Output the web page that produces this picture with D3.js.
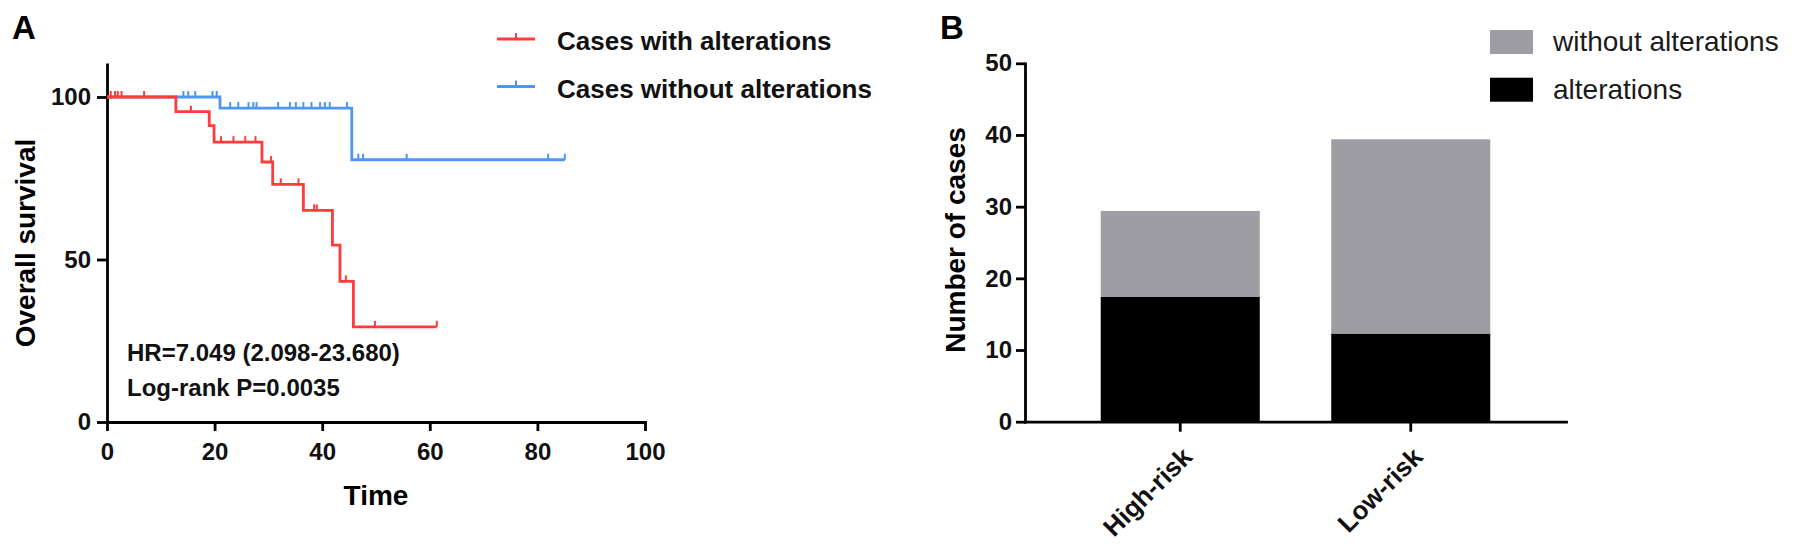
<!DOCTYPE html>
<html><head><meta charset="utf-8">
<script src="https://cdn.jsdelivr.net/npm/d3@7"></script>
<style>
body{margin:0;background:#fff}
svg{display:block}
text{font-family:"Liberation Sans",Arial,Helvetica,sans-serif}
</style></head><body>
<svg id="c" width="1795" height="550"></svg>
<script>
// ---------- Panel A: Kaplan-Meier ----------
const redTimes = [0, 12.8, 19.0, 19.9, 28.8, 30.8, 36.5, 41.9, 43.3, 45.8];
const redSurvival = [100, 95.5, 91.2, 86.1, 80.0, 73.1, 65.1, 54.4, 43.3, 29.3];
const redEnd = 61.3;
const redCensor = [0.7, 1.5, 2.0, 2.7, 6.9, 15.6, 21.2, 23.5, 25.7, 27.6, 30.5, 32.3, 35.6, 38.5, 39.0, 44.4, 49.8, 61.3];
const blueTimes = [0, 21.0, 45.5];
const blueSurvival = [100, 96.6, 80.7];
const blueEnd = 85.1;
const blueCensor = [14.2, 15.1, 16.4, 19.6, 20.4, 22.9, 24.4, 26.3, 27.2, 27.8, 31.8, 34.0, 35.1, 36.5, 38.0, 39.6, 40.5, 41.4, 44.6, 46.7, 47.6, 55.7, 82.0, 85.1];
const kmXTicks = [0, 20, 40, 60, 80, 100];
const kmYTicks = [0, 50, 100];
const kmLegend = ["Cases with alterations", "Cases without alterations"];
const kmNotes = ["HR=7.049 (2.098-23.680)", "Log-rank P=0.0035"];

// ---------- Panel B: stacked bars ----------
const riskGroups = ["High-risk", "Low-risk"];
const withAlterations = [17.4, 12.3];
const withoutAlterations = [12.0, 27.1];
const barYTicks = [0, 10, 20, 30, 40, 50];
const barLegend = ["without alterations", "alterations"];

const RED = "#ff3b3b", BLUE = "#4f96f2", GRAY = "#9e9da3";
const svg = d3.select("#c");
svg.append("rect").attr("width", 1795).attr("height", 550).attr("fill", "#fff");

function styleAxis(g, fs) {
  g.select(".domain").attr("stroke", "#000").attr("stroke-width", 2.8).attr("stroke-linecap", "square");
  g.selectAll(".tick line").attr("stroke", "#000").attr("stroke-width", 2.8);
  g.selectAll(".tick text").attr("fill", "#111").attr("font-size", fs).attr("font-weight", "bold")
    .attr("font-family", '"Liberation Sans",Arial,sans-serif');
}

// ===== Panel A =====
const x = d3.scaleLinear().domain([0, 100]).range([107, 645]);
const y = d3.scaleLinear().domain([0, 110]).range([422, 64.5]);

svg.append("text").attr("x", 12).attr("y", 39).attr("font-size", 33).attr("font-weight", "bold").text("A");

const gx = svg.append("g").attr("transform", `translate(0,${y(0)})`)
  .call(d3.axisBottom(x).tickValues(kmXTicks).tickSize(9).tickPadding(12).tickSizeOuter(0));
styleAxis(gx, 24);
const gy = svg.append("g").attr("transform", `translate(${x(0)},0)`)
  .call(d3.axisLeft(y).tickValues(kmYTicks).tickSize(10).tickPadding(6).tickSizeOuter(0));
styleAxis(gy, 24);

svg.append("text").attr("x", (x(0) + x(100)) / 2).attr("y", 505).attr("text-anchor", "middle")
  .attr("font-size", 28).attr("font-weight", "bold").text("Time");
svg.append("text").attr("transform", `translate(35,243) rotate(-90)`).attr("text-anchor", "middle")
  .attr("font-size", 28).attr("font-weight", "bold").text("Overall survival");

function stepVal(times, surv, t) {
  let v = surv[0];
  for (let i = 0; i < times.length; i++) if (times[i] <= t) v = surv[i];
  return v;
}
const line = d3.line().x(d => x(d[0])).y(d => y(d[1])).curve(d3.curveStepAfter);
function drawKM(times, surv, end, censor, color) {
  const pts = times.map((t, i) => [t, surv[i]]);
  pts.push([end, surv[surv.length - 1]]);
  svg.append("path").attr("d", line(pts)).attr("fill", "none").attr("stroke", color)
    .attr("stroke-width", 2.8).attr("stroke-linejoin", "miter");
  svg.append("g").selectAll("line").data(censor).join("line")
    .attr("x1", d => x(d)).attr("x2", d => x(d))
    .attr("y1", d => y(stepVal(times, surv, d)))
    .attr("y2", d => y(stepVal(times, surv, d)) - 6)
    .attr("stroke", color).attr("stroke-width", 2);
}
drawKM(blueTimes, blueSurvival, blueEnd, blueCensor, BLUE);
drawKM(redTimes, redSurvival, redEnd, redCensor, RED);

// KM legend
const kmColors = [RED, BLUE];
const legA = svg.append("g").selectAll("g").data(kmLegend).join("g")
  .attr("transform", (d, i) => `translate(0,${39 + i * 47.5})`);
legA.append("line").attr("x1", 497).attr("x2", 535).attr("y1", 0).attr("y2", 0)
  .attr("stroke", (d, i) => kmColors[i]).attr("stroke-width", 2.8);
legA.append("line").attr("x1", 516).attr("x2", 516).attr("y1", 0).attr("y2", -6)
  .attr("stroke", (d, i) => kmColors[i]).attr("stroke-width", 2);
legA.append("text").attr("x", 557).attr("y", 11).attr("font-size", 26).attr("font-weight", "bold")
  .attr("fill", "#111").text(d => d);

// notes
svg.append("g").selectAll("text").data(kmNotes).join("text")
  .attr("x", 127).attr("y", (d, i) => 361 + i * 35).attr("font-size", 24).attr("font-weight", "bold")
  .attr("fill", "#111").text(d => d);

// ===== Panel B =====
const xb = d3.scaleBand().domain(riskGroups).range([1025, 1566]).paddingInner(0.31).paddingOuter(0.3285);
const yb = d3.scaleLinear().domain([0, 50]).range([421.7, 63.3]);

svg.append("text").attr("x", 940).attr("y", 39).attr("font-size", 33).attr("font-weight", "bold").text("B");

const table = riskGroups.map((g, i) => ({group: g, alterations: withAlterations[i], without: withoutAlterations[i]}));
const stacked = d3.stack().keys(["alterations", "without"])(table);
const barColors = {alterations: "#000", without: GRAY};
svg.append("g").selectAll("g").data(stacked).join("g").attr("fill", d => barColors[d.key])
  .selectAll("rect").data(d => d).join("rect")
  .attr("x", d => xb(d.data.group)).attr("width", xb.bandwidth())
  .attr("y", d => yb(d[1])).attr("height", d => yb(d[0]) - yb(d[1]));

const gyb = svg.append("g").attr("transform", `translate(1025,0)`)
  .call(d3.axisLeft(yb).tickValues(barYTicks).tickSize(9).tickPadding(4).tickSizeOuter(0));
styleAxis(gyb, 24);
const gxb = svg.append("g").attr("transform", `translate(0,${yb(0)})`)
  .call(d3.axisBottom(xb).tickSize(10).tickSizeOuter(0));
styleAxis(gxb, 26);
gxb.selectAll(".tick text").attr("text-anchor", "end").attr("dy", "0.35em").attr("y", 0)
  .attr("transform", `translate(7,${452 - 421.7}) rotate(-45)`);

svg.append("text").attr("transform", `translate(965,240) rotate(-90)`).attr("text-anchor", "middle")
  .attr("font-size", 28).attr("font-weight", "bold").text("Number of cases");

const legColors = [GRAY, "#000"];
const legB = svg.append("g").selectAll("g").data(barLegend).join("g")
  .attr("transform", (d, i) => `translate(0,${30 + i * 47.7})`);
legB.append("rect").attr("x", 1490).attr("y", 0).attr("width", 43).attr("height", 24).attr("fill", (d, i) => legColors[i]);
legB.append("text").attr("x", 1553).attr("y", 21).attr("font-size", 28).attr("fill", "#1a1a1a").text(d => d);
</script>
</body></html>
